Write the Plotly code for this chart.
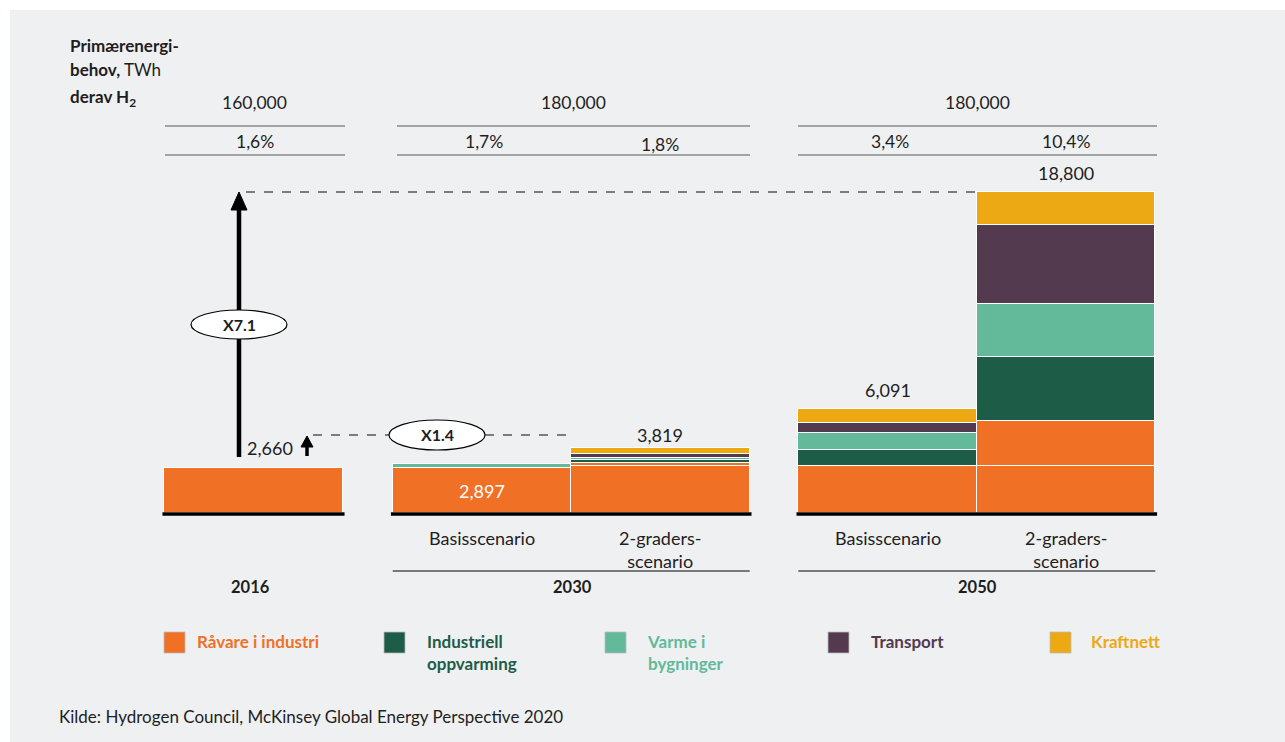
import plotly.graph_objects as go

# ---------------- data ----------------
categories = ["2016", "2030 Basisscenario", "2030 2-graders-scenario",
              "2050 Basisscenario", "2050 2-graders-scenario"]
raavare = [2660, 2650, 2750, 2781, 2780]          # Råvare i industri
raavare_ny = [0, 0, 180, 0, 2610]                 # Råvare i industri (ny andel)
industriell = [0, 10, 150, 880, 3750]             # Industriell oppvarming
varme = [0, 190, 150, 1040, 3090]                 # Varme i bygninger
transport = [0, 10, 200, 590, 4640]               # Transport
kraftnett = [0, 37, 389, 800, 1930]               # Kraftnett
total_labels = ["2,660", "2,897", "3,819", "6,091", "18,800"]

years = ["2016", "2030", "2050"]
primary_energy = ["160,000", "180,000", "180,000"]
h2_share = ["1,6%", "1,7%", "1,8%", "3,4%", "10,4%"]
scenario_labels = ["Basisscenario", "2-graders-<br>scenario"]
multipliers = ["X7.1", "X1.4"]

series_names = ["Råvare i industri", "Industriell<br>oppvarming", "Varme i<br>bygninger",
                "Transport", "Kraftnett"]
colors = ["#F07026", "#1D5C46", "#62BA9A", "#533A4F", "#EDA913"]

# ---------------- layout geometry ----------------
W, H = 1285, 742
x_pos = [0, 1.28, 2.28, 3.552, 4.552]
PX_PER_X = 178.5
X_LEFT = -253.5 / PX_PER_X
BASE_PX = 513
K = 18800 / 321.0  # value per pixel

def xd(px):
    return X_LEFT + px / PX_PER_X

def yd(py):
    return (BASE_PX - py) * K

def ypx(v):
    return BASE_PX - v / K

def xp(px):
    return px / W

def yp(py):
    return 1 - py / H

FONT = "Lato, 'Open Sans', sans-serif"
BOLD = "Lato, 'Open Sans', sans-serif"
TXT = "#1E1E1E"
NUM = 17.5

fig = go.Figure()
stack = [
    (raavare, colors[0], series_names[0]),
    (raavare_ny, colors[0], series_names[0]),
    (industriell, colors[1], series_names[1]),
    (varme, colors[2], series_names[2]),
    (transport, colors[3], series_names[3]),
    (kraftnett, colors[4], series_names[4]),
]
for vals, col, name in stack:
    fig.add_trace(go.Bar(
        x=x_pos, y=vals, width=1.0, name=name.replace("<br>", " "),
        marker=dict(color=col, line=dict(color="white", width=1.0)),
        showlegend=False, hoverinfo="skip",
    ))

shapes = []
annotations = []

# background (white frame top/left, grey panel)
shapes.append(dict(type="rect", xref="paper", yref="paper", x0=xp(10), x1=1.0, y0=0, y1=yp(10),
                   fillcolor="#EFF0F2", line=dict(width=0), layer="below"))

def text(px, py, s, size=NUM, color=TXT, bold=False, xanchor="center", yanchor="middle"):
    f = dict(family=BOLD if bold else FONT, size=size, color=color)
    if bold:
        f["weight"] = 700
    annotations.append(dict(x=xp(px), y=yp(py), xref="paper", yref="paper", text=s,
                            showarrow=False, xanchor=xanchor, yanchor=yanchor, font=f, align="left"))

def hline(px0, px1, py, color="#8A8A8A", width=1.5, dash="solid"):
    shapes.append(dict(type="line", xref="paper", yref="paper", x0=xp(px0), x1=xp(px1),
                       y0=yp(py), y1=yp(py), line=dict(color=color, width=width, dash=dash)))

# header
text(68, 46, "<b>Primærenergi-</b>", size=17, xanchor="left")
text(68, 69, "<b>behov,</b> TWh", size=17, xanchor="left")
text(68, 98, "<b>derav H<sub>2</sub></b>", size=17, xanchor="left")

# top table
groups_px = [(165, 345), (397, 750), (798, 1157)]
for (a, b), pe in zip(groups_px, primary_energy):
    text((a + b) / 2, 102, pe)
    hline(a, b, 126)
    hline(a, b, 155)
share_px = [(255, 141), (484, 141), (660, 144), (890, 141), (1066, 141)]
for (px, py), s in zip(share_px, h2_share):
    text(px, py, s)

# black baselines under bars
for i0, i1 in [(0, 0), (1, 2), (3, 4)]:
    shapes.append(dict(type="line", xref="x", yref="y", x0=x_pos[i0] - 0.51, x1=x_pos[i1] + 0.51,
                       y0=yd(514), y1=yd(514), line=dict(color="black", width=3.5)))

# totals
tot = [sum(v) for v in zip(raavare, raavare_ny, industriell, varme, transport, kraftnett)]
text(295, 448, total_labels[0], size=18, xanchor="right")
annotations.append(dict(x=x_pos[1], y=yd(491), xref="x", yref="y", text=total_labels[1],
                        showarrow=False, xanchor="center",
                        font=dict(family=FONT, size=18, color="white")))
text(660, 435, total_labels[2], size=18)
annotations.append(dict(x=x_pos[3], y=tot[3], xref="x", yref="y", text=total_labels[3],
                        showarrow=False, xanchor="center", yanchor="bottom", yshift=6,
                        font=dict(family=FONT, size=18, color=TXT)))
annotations.append(dict(x=x_pos[4], y=tot[4], xref="x", yref="y", text=total_labels[4],
                        showarrow=False, xanchor="center", yanchor="bottom", yshift=6,
                        font=dict(family=FONT, size=18, color=TXT)))

# scenario labels and group lines
for gi, (i0, i1) in enumerate([(1, 2), (3, 4)]):
    for j, idx in enumerate([i0, i1]):
        cx = (x_pos[idx] - X_LEFT) * PX_PER_X
        annotations.append(dict(x=xp(cx), y=yp(525), xref="paper", yref="paper",
                                text=scenario_labels[j], showarrow=False,
                                xanchor="center", yanchor="top", align="center",
                                font=dict(family=FONT, size=18, color=TXT)))
    a = (x_pos[i0] - 0.5 - X_LEFT) * PX_PER_X
    b = (x_pos[i1] + 0.5 - X_LEFT) * PX_PER_X
    hline(a, b, 571, color="black", width=1.2)

text(250, 587, years[0], size=16.5, bold=True)
text(572, 587, years[1], size=16.5, bold=True)
text(977, 587, years[2], size=16.5, bold=True)

# big arrow X7.1
top_py = ypx(tot[4])
shapes.append(dict(type="line", xref="paper", yref="paper", x0=xp(239), x1=xp(239),
                   y0=yp(457), y1=yp(top_py + 14), line=dict(color="black", width=4.5)))

def tri(cx, tip, half, h):
    return (f"M {xp(cx - half)} {yp(tip + h)} L {xp(cx + half)} {yp(tip + h)} "
            f"L {xp(cx)} {yp(tip)} Z")

shapes.append(dict(type="path", xref="paper", yref="paper", path=tri(239, top_py, 8, 18),
                   fillcolor="black", line=dict(color="black", width=1)))
hline(246, 977, top_py, color="#555555", width=1.5, dash="dash")
shapes.append(dict(type="circle", xref="paper", yref="paper", x0=xp(191), x1=xp(287),
                   y0=yp(339), y1=yp(310), fillcolor="white", line=dict(color="black", width=1.2)))
text(239, 324, "<b>" + multipliers[0] + "</b>", size=16, bold=True)

# small arrow X1.4
shapes.append(dict(type="line", xref="paper", yref="paper", x0=xp(307), x1=xp(307),
                   y0=yp(456), y1=yp(444), line=dict(color="black", width=3.5)))
shapes.append(dict(type="path", xref="paper", yref="paper", path=tri(307, 436, 6, 11),
                   fillcolor="black", line=dict(color="black", width=1)))
hline(313, 390, 435, color="#555555", width=1.5, dash="dash")
hline(485, 575, 435, color="#555555", width=1.5, dash="dash")
shapes.append(dict(type="circle", xref="paper", yref="paper", x0=xp(389), x1=xp(485),
                   y0=yp(450), y1=yp(420), fillcolor="white", line=dict(color="black", width=1.2)))
text(437, 435, "<b>" + multipliers[1] + "</b>", size=16, bold=True)

# legend (manual)
legend_px = [164, 384, 605, 828, 1050]
text_dx = [31, 41, 40, 41, 39]
for lx, dx, name, col in zip(legend_px, text_dx, series_names, colors):
    shapes.append(dict(type="rect", xref="paper", yref="paper", x0=xp(lx), x1=xp(lx + 21),
                       y0=yp(653), y1=yp(632), fillcolor=col, line=dict(color="#BBBBBB", width=0.8)))
    annotations.append(dict(x=xp(lx + dx), y=yp(629), xref="paper", yref="paper",
                            text="<b>" + name + "</b>", showarrow=False, xanchor="left", yanchor="top",
                            align="left", font=dict(family=BOLD, size=17, color=col, weight=700)))

# source
text(57, 716, "Kilde: Hydrogen Council, McKinsey Global Energy Perspective 2020", size=17,
     xanchor="left")

fig.update_layout(
    width=W, height=H, autosize=False,
    margin=dict(l=0, r=0, t=0, b=0),
    paper_bgcolor="white", plot_bgcolor="rgba(0,0,0,0)",
    barmode="stack", bargap=0,
    xaxis=dict(range=[X_LEFT, X_LEFT + W / PX_PER_X], visible=False, fixedrange=True),
    yaxis=dict(range=[yd(H), yd(0)], visible=False, fixedrange=True),
    shapes=shapes, annotations=annotations,
    showlegend=False,
)

fig.write_html("out.html")
